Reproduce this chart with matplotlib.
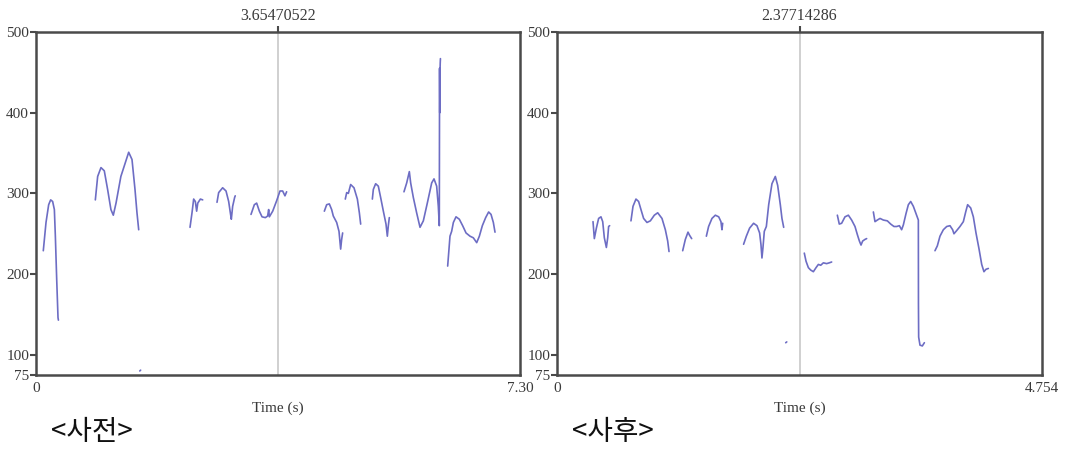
"""
Pitch contour comparison: before / after (Praat-style pitch plots)
"""

import matplotlib
matplotlib.use('Agg')
import matplotlib.pyplot as plt

# ---- data -------------------------------------------------------------
# time (s) and F0 (Hz) for each voiced stretch, before training
pre_t = [
    [0.11, 0.151, 0.191, 0.221, 0.251, 0.277, 0.292, 0.312, 0.332, 0.338],
    [0.895, 0.93, 0.98, 1.03, 1.08, 1.13, 1.166, 1.207, 1.28, 1.398, 1.448, 1.493, 1.523, 1.549],
    [2.323, 2.353, 2.378, 2.403, 2.423, 2.44, 2.479, 2.514],
    [2.73, 2.755, 2.815, 2.866, 2.906, 2.931, 2.946, 2.966, 2.996, 3.005],
    [3.243, 3.293, 3.328, 3.369, 3.409, 3.459, 3.494, 3.509, 3.52, 3.57, 3.63, 3.68,
     3.72, 3.755, 3.78],
    [4.349, 4.384, 4.424, 4.459, 4.484, 4.535, 4.57, 4.595, 4.61, 4.625],
    [4.665, 4.686, 4.711, 4.746, 4.796, 4.847, 4.877, 4.897],
    [5.073, 5.088, 5.123, 5.163, 5.198, 5.239, 5.279, 5.299, 5.314, 5.329],
    [5.55, 5.591, 5.631, 5.651, 5.691, 5.741, 5.792, 5.842, 5.902, 5.968, 6.003, 6.043,
     6.068, 6.083, 6.085, 6.087, 6.09, 6.093, 6.097, 6.10],
    [6.209, 6.229, 6.244, 6.269, 6.295, 6.335, 6.385, 6.435, 6.486, 6.546, 6.596, 6.647,
     6.687, 6.732, 6.782, 6.827, 6.863, 6.898, 6.923],
    [1.565, 1.578],
]
pre_hz = [
    [229, 264, 286, 292, 290, 280, 247, 194, 146, 143],
    [292, 321, 332, 328, 305, 280, 273, 288, 321, 351, 342, 305, 276, 255],
    [258, 276, 293, 290, 278, 288, 293, 292],
    [289, 301, 307, 303, 290, 276, 268, 284, 295, 297],
    [274, 286, 288, 278, 271, 270, 272, 280, 271, 278, 291, 303, 303, 297, 302],
    [278, 286, 287, 280, 272, 264, 253, 231, 243, 251],
    [293, 301, 300, 311, 307, 293, 276, 262],
    [293, 305, 312, 309, 295, 278, 262, 247, 260, 270],
    [302, 313, 327, 313, 295, 276, 258, 266, 288, 313, 318, 309,
     284, 260, 360, 455, 400, 450, 462, 467],
    [210, 231, 247, 253, 264, 271, 268, 260, 251, 247, 245, 239,
     247, 260, 270, 277, 274, 264, 252],
    [80, 81],
]

# after training
post_t = [
    [0.353, 0.366, 0.386, 0.408, 0.431, 0.448, 0.464, 0.484, 0.497, 0.506, 0.516],
    [0.725, 0.745, 0.774, 0.80, 0.823, 0.849, 0.882, 0.915, 0.954, 0.987, 1.029, 1.062, 1.085, 1.098],
    [1.232, 1.258, 1.284, 1.30, 1.32],
    [1.464, 1.486, 1.519, 1.552, 1.585, 1.607, 1.617, 1.624],
    [1.829, 1.856, 1.888, 1.927, 1.96, 1.986, 1.999, 2.009, 2.019, 2.032, 2.052, 2.075,
     2.107, 2.14, 2.163, 2.189, 2.205, 2.222],
    [2.242, 2.252],
    [2.424, 2.441, 2.464, 2.487, 2.513, 2.539, 2.562, 2.585, 2.611, 2.643, 2.669, 2.692],
    [2.748, 2.767, 2.79, 2.823, 2.856, 2.888, 2.921, 2.944, 2.964, 2.98, 2.996, 3.019, 3.035],
    [3.101, 3.117, 3.14, 3.166, 3.199, 3.238, 3.271, 3.303, 3.329, 3.356, 3.378, 3.395,
     3.421, 3.444, 3.467, 3.493, 3.519, 3.542, 3.543, 3.545, 3.558, 3.581, 3.601],
    [3.705, 3.728, 3.754, 3.787, 3.82, 3.852, 3.878, 3.891, 3.918, 3.95, 3.983, 4.006,
     4.025, 4.055, 4.081, 4.107, 4.137, 4.163, 4.185, 4.205, 4.228],
]
post_hz = [
    [265, 244, 257, 269, 271, 265, 245, 233, 245, 259, 260],
    [266, 284, 293, 290, 280, 269, 264, 266, 273, 276, 269, 255, 241, 228],
    [229, 243, 252, 248, 244],
    [247, 259, 269, 273, 271, 265, 255, 263],
    [237, 247, 257, 263, 260, 251, 237, 220, 233, 253, 259, 286,
     312, 321, 310, 286, 269, 258],
    [115, 116],
    [226, 216, 208, 205, 203, 208, 212, 211, 214, 213, 214, 215],
    [273, 262, 263, 271, 273, 267, 259, 249, 241, 236, 241, 243, 244],
    [277, 265, 267, 269, 267, 266, 262, 259, 259, 260, 255, 261,
     275, 286, 290, 284, 275, 267, 163, 122, 112, 111, 115],
    [229, 235, 247, 255, 259, 260, 255, 250, 254, 259, 265, 277,
     286, 282, 271, 251, 231, 212, 203, 206, 207],
]

pre_duration = 7.30
post_duration = 4.754
pre_cursor = 3.65470522
post_cursor = 2.37714286

y_ticks = [75, 100, 200, 300, 400, 500]
x_end_labels = ['7.30', '4.754']
panel_titles = ['<사전>', '<사후>']

# ---- style ------------------------------------------------------------
CONTOUR = '#6d6dc4'
FRAME = '#4a4a4a'
TEXT = '#3a3a3a'
plt.rcParams['font.family'] = ['Liberation Serif', 'DejaVu Serif']


def draw_pitch(ax, times, hz, duration, end_label, cursor, title):
    """Draw one pitch panel in a Praat-like look"""
    for t, f in zip(times, hz):
        ax.plot(t, f, color=CONTOUR, lw=1.2, solid_capstyle='round')

    ax.axvline(cursor, color='#c4c4c4', lw=1.1, zorder=0)

    ax.set_xlim(0, duration)
    ax.set_ylim(75, 500)
    for s in ax.spines.values():
        s.set_color(FRAME)
        s.set_linewidth(1.8)

    ax.set_yticks(y_ticks)
    ax.set_yticklabels([str(v) for v in y_ticks], fontsize=11, color=TEXT)
    ax.tick_params(axis='y', direction='out', length=4, width=1.5,
                   color=FRAME, pad=1)

    ax.set_xticks([0, duration])
    ax.set_xticklabels(['0', end_label], fontsize=11, color=TEXT)
    ax.tick_params(axis='x', length=0, pad=5)
    ax.set_xlabel('Time (s)', fontsize=11, color=TEXT, labelpad=5)

    # cursor time on top
    top = ax.secondary_xaxis('top')
    top.set_xticks([cursor])
    top.set_xticklabels([f'{cursor:.8f}'], fontsize=11.5, color=TEXT)
    top.tick_params(direction='out', length=4, width=1.5, color=FRAME, pad=2)
    for s in top.spines.values():
        s.set_visible(False)

    ax.text(0.03, -0.165, title, transform=ax.transAxes, fontsize=20,
            family=['Noto Sans CJK KR', 'DejaVu Sans'], fontweight='light',
            color='#111111', ha='left', va='center')


fig = plt.figure(figsize=(10.7, 4.5), dpi=100)
ax1 = fig.add_axes([36 / 1070, 1 - 375 / 450, 484 / 1070, 343 / 450])
ax2 = fig.add_axes([557 / 1070, 1 - 375 / 450, 485 / 1070, 343 / 450])

draw_pitch(ax1, pre_t, pre_hz, pre_duration, x_end_labels[0], pre_cursor, panel_titles[0])
draw_pitch(ax2, post_t, post_hz, post_duration, x_end_labels[1], post_cursor, panel_titles[1])

fig.savefig('out.png', dpi=100)
plt.close(fig)
